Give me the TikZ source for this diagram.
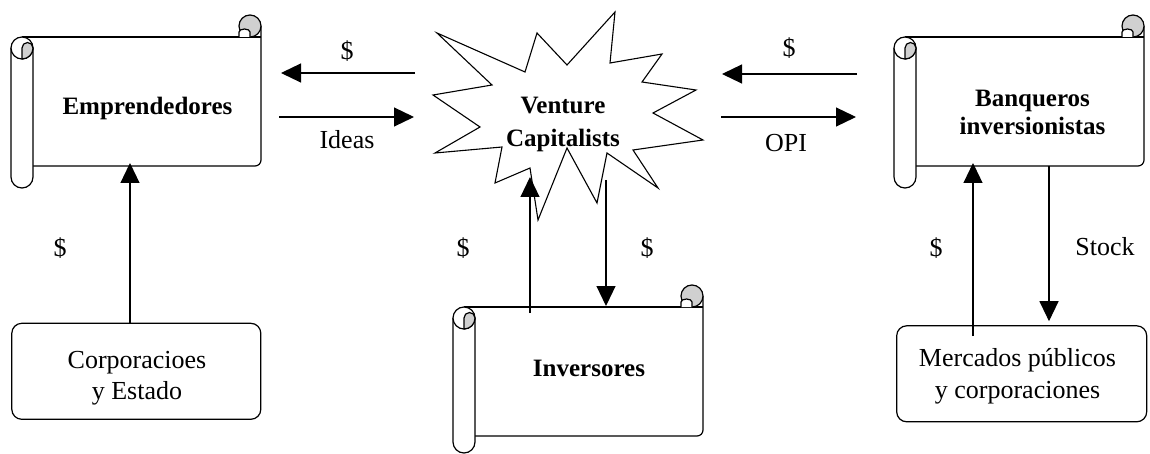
\documentclass[tikz,border=0pt]{standalone}
\usepackage{fontspec}
\setmainfont{Liberation Serif}
\usetikzlibrary{arrows.meta}
\definecolor{curlgrey}{RGB}{208,208,208}
% #1=L, #2=T (top of curl), #3=R, #4=body bottom, #5=roll bottom
\newcommand\myscroll[5]{%
  \draw[sc] ({#1+11},{#2+22}) -- ({#3},{#2+22});
  \draw[sc,rounded corners=6pt] ({#3},{#2+11}) -- ({#3},{#4}) -- ({#1+22},{#4});
  \draw[sc,fill=curlgrey] ({#3-11},{#2+11}) circle[radius=11];
  \draw[sc,fill=white] ({#3-22},{#2+22}) -- ({#3-22},{#2+17}) arc[start angle=180,end angle=360,x radius=5.5,y radius=3] -- ({#3-11},{#2+22});
  \draw[sc,fill=white] ({#1},{#2+33}) -- ({#1},{#5-11}) arc[start angle=180,end angle=0,radius=11] -- ({#1+22},{#2+33});
  \draw[sc,fill=white] ({#1+11},{#2+33}) circle[radius=11];
  \draw[sc,fill=curlgrey] ({#1+11},{#2+33}) arc[start angle=180,end angle=360,radius=5.5] arc[start angle=0,end angle=90,radius=11] -- cycle;
}
\begin{document}
\begin{tikzpicture}[x=1pt,y=-1pt,
  sc/.style={line width=1.2pt,line join=round},
  arr/.style={line width=1.2pt,-{Triangle[length=20pt,width=19pt]}},
  lab/.style={font=\fontsize{26}{31}\selectfont,inner sep=0pt},
  blab/.style={font=\fontsize{25}{30}\selectfont\bfseries,inner sep=0pt,align=center},
  rbox/.style={draw,line width=1.2pt,rounded corners=10pt,inner sep=0pt},
  body/.style={inner sep=0pt,outer sep=0pt}]
\useasboundingbox (0,0) rectangle (1150,454);
% scrolls
\myscroll{11}{15}{261}{166}{188}
\myscroll{894}{15}{1144}{166}{188}
\myscroll{453}{285}{703}{436}{453}
\node[body,minimum width=228pt,minimum height=128pt] (empbody) at (147,102) {};
\node[body,minimum width=228pt,minimum height=128pt] (banqbody) at (1030,102) {};
\node[body,minimum width=228pt,minimum height=129pt] (invbody) at (589,371.5) {};
\node[blab,anchor=base] (emp) at (147.5,115) {Emprendedores};
\node[blab,font=\fontsize{25}{28}\selectfont\bfseries] (banq) at (1032.5,112.8) {Banqueros\\inversionistas};
\node[blab,anchor=base] (inv) at (589,376.7) {Inversores};
% starburst
\draw[line width=1.1pt,line join=miter] (437,33) -- (525,72) -- (537,33) -- (567,65) -- (615,12) -- (610,63) -- (662,54) -- (642,82) -- (696,90) -- (653,113) -- (703,140) -- (633,150) -- (658,188) -- (607,153) -- (597,203) -- (567,148) -- (538,220) -- (530,168) -- (495,183) -- (502,147) -- (435,153) -- (480,127) -- (433,95) -- (492,85) -- cycle;
\node[blab,font=\fontsize{25}{33}\selectfont\bfseries] (vc) at (563,124) {Venture\\Capitalists};
% rounded boxes
\node[rbox,minimum width=249pt,minimum height=96pt] (corp) at (136.3,371.3) {};
\node[rbox,minimum width=250pt,minimum height=96pt] (merc) at (1021.7,373.8) {};
\node[lab,align=center,font=\fontsize{26}{31}\selectfont] (corpt) at (137,378.5) {Corporacioes\\y Estado};
\node[lab,align=center,font=\fontsize{26}{31.6}\selectfont] (merct) at (1017.5,376.4) {Mercados públicos\\y corporaciones};
% arrow coordinates
\coordinate (a1s) at (415,73); \coordinate (a1e) at (281,73);
\coordinate (a2s) at (279,117); \coordinate (a2e) at (414,117);
\coordinate (a3s) at (857,74); \coordinate (a3e) at (722,74);
\coordinate (a4s) at (721,117); \coordinate (a4e) at (856,117);
\coordinate (x130) at (130,0);
\coordinate (a6s) at (530,313); \coordinate (a6e) at (530,177);
\coordinate (a7s) at (606,180); \coordinate (x606) at (606,0);
\coordinate (a8s) at (973,336); \coordinate (x973) at (973,0);
\coordinate (x1049) at (1049,0);
\draw[arr] (a1s) -- (a1e);
\draw[arr] (a2s) -- (a2e);
\draw[arr] (a3s) -- (a3e);
\draw[arr] (a4s) -- (a4e);
\draw[arr] (corp.north -| x130) -- ([yshift=3pt]empbody.south -| x130);
\draw[arr] (a6s) -- (a6e);
\draw[arr] (a7s) -- ([yshift=1pt]invbody.north -| x606);
\draw[arr] (a8s) -- ([yshift=3pt]banqbody.south -| x973);
\draw[arr] (banqbody.south -| x1049) -- ([yshift=4pt]merc.north -| x1049);
% labels
\node[lab,anchor=base] (l1) at (347,59.5) {\$};
\node[lab,anchor=base] (l2) at (347,149) {Ideas};
\node[lab,anchor=base] (l3) at (789,57) {\$};
\node[lab,anchor=base] (l4) at (786,152) {OPI};
\node[lab,anchor=base] (l5) at (60,257) {\$};
\node[lab,anchor=base] (l6) at (463,257) {\$};
\node[lab,anchor=base] (l7) at (647,257) {\$};
\node[lab,anchor=base] (l8) at (936,257) {\$};
\node[lab,anchor=base] (l9) at (1105,255) {Stock};
\end{tikzpicture}
\end{document}
